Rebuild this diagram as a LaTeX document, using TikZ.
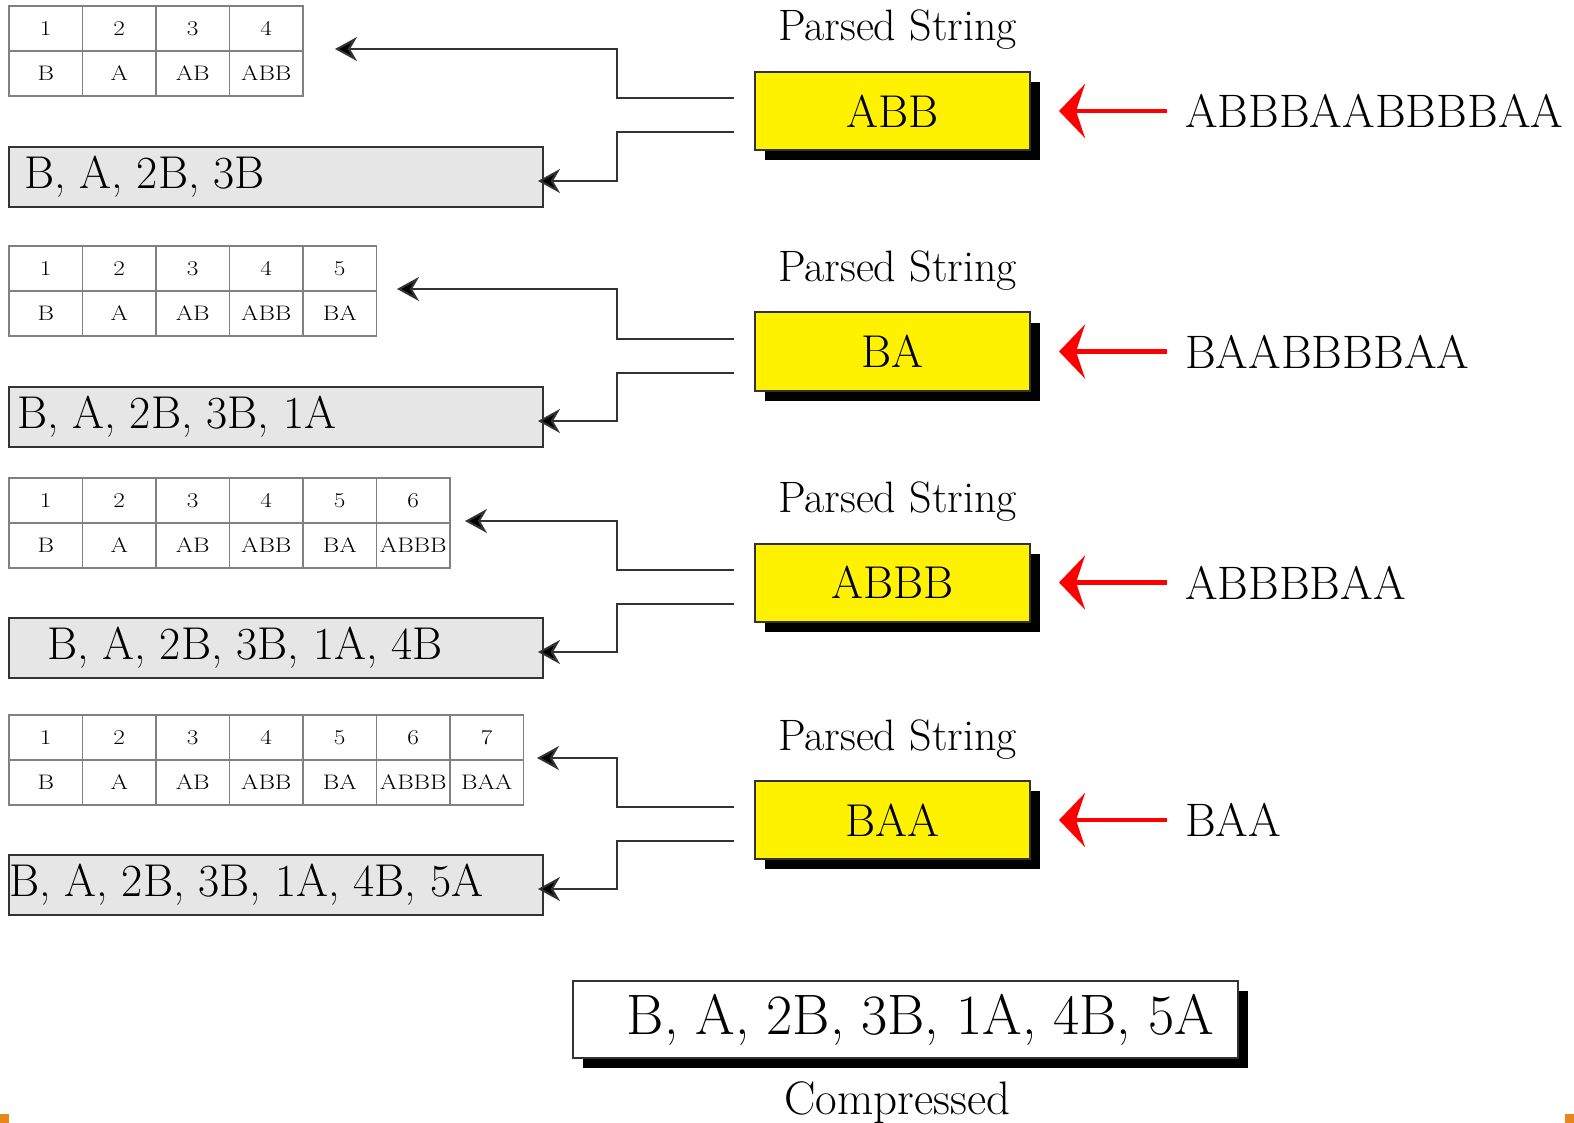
\documentclass[tikz,border=0pt]{standalone}
\usepackage{graphicx}
\usetikzlibrary{arrows.meta,shadows}
\definecolor{boxline}{HTML}{333333}
\definecolor{cellline}{HTML}{808080}
\definecolor{codegray}{HTML}{E6E6E6}
\definecolor{cornermark}{HTML}{E8871E}
\newcommand{\widetext}[1]{\scalebox{1.2}[1]{#1}}
\tikzset{
  cell/.style={draw=cellline, line width=1.3pt, minimum width=73.5pt,
    minimum height=45pt, inner sep=0pt, font=\fontsize{21}{24}\selectfont},
  codebox/.style={draw=boxline, line width=2pt, fill=codegray,
    minimum width=534pt, minimum height=60pt, inner sep=0pt},
  codetext/.style={anchor=west, inner sep=0pt, font=\fontsize{46}{52}\selectfont},
  parsebox/.style={draw=boxline, line width=2pt, fill=yellow,
    minimum width=275pt, minimum height=78pt, inner sep=0pt,
    font=\fontsize{46}{52}\selectfont,
    drop shadow={shadow xshift=10pt, shadow yshift=-10pt, fill=black, opacity=1}},
  finalbox/.style={parsebox, fill=white, minimum width=665pt, minimum height=77pt},
  title/.style={anchor=base, inner sep=0pt, font=\fontsize{44}{50}\selectfont},
  intext/.style={anchor=west, inner sep=0pt, font=\fontsize{47}{54}\selectfont},
  link/.style={draw=boxline, line width=2pt,
    -{Stealth[length=22pt, width=24pt, inset=7pt, fill=black]}},
  feed/.style={draw=red, line width=4.5pt, shorten <=18pt,
    -{Stealth[length=26pt, width=54pt, inset=9pt]}}
}

\begin{document}
\begin{tikzpicture}[x=1pt, y=-1pt]
  \useasboundingbox (0,0) rectangle (1574,1123);

  % dictionary tables
  \foreach \t/\top/\tip/\words in {1/6/335/{B,A,AB,ABB},
                                   2/246/397/{B,A,AB,ABB,BA},
                                   3/478/465/{B,A,AB,ABB,BA,ABBB},
                                   4/715/537/{B,A,AB,ABB,BA,ABBB,BAA}} {
    \foreach \w [count=\i] in \words {
      \node[cell] (t\t-n\i) at (9+73.5*\i-36.75, \top+22.5) {\widetext{\i}};
      \node[cell] (t\t-w\i) at (9+73.5*\i-36.75, \top+67.5) {\widetext{\w}};
    }
    \coordinate (d\t) at (\tip, \top+43);
  }

  % one step of the parse per row
  \foreach \k/\py/\cy/\parsed/\rest/\out/\gap in {
      1/111/177/ABB/ABBBAABBBBAA/{B, A, 2B, 3B}/16,
      2/351.5/417/BA/BAABBBBAA/{B, A, 2B, 3B, 1A}/9,
      3/582.5/648/ABBB/ABBBBAA/{B, A, 2B, 3B, 1A, 4B}/39,
      4/820/885/BAA/BAA/{B, A, 2B, 3B, 1A, 4B, 5A}/1} {
    \node[parsebox] (p\k) at (892.5,\py) {\parsed};
    \node[title] at ([xshift=5pt,yshift=30pt]p\k.north) {Parsed String};
    \node[codebox] (c\k) at (276,\cy) {};
    \node[codetext] at ([xshift=\gap pt]c\k.west) {\out};
    \node[intext] (in\k) at (1185,\py) {\rest};
    \draw[feed] (in\k.west) -- ([xshift=28pt]p\k.east);
    \draw[link] ([xshift=-20pt,yshift=13pt]p\k.west) -- ++(-117,0) |- (d\k);
    \draw[link] ([xshift=-20pt,yshift=-21pt]p\k.west) -- ++(-117,0)
                |- ([xshift=-6pt,yshift=-4pt]c\k.east);
  }

  % final output
  \node[finalbox] (res) at (905.5,1019.5) {};
  \node[inner sep=0pt, font=\fontsize{57}{62}\selectfont]
       at ([xshift=15pt]res.center) {B, A, 2B, 3B, 1A, 4B, 5A};
  \node[title, font=\fontsize{47}{54}\selectfont] at ([xshift=-8pt,yshift=-55pt]res.south) {Compressed};

  \fill[cornermark] (0,1114) rectangle (9,1123);
  \fill[cornermark] (1565,1114) rectangle (1574,1123);
\end{tikzpicture}
\end{document}
